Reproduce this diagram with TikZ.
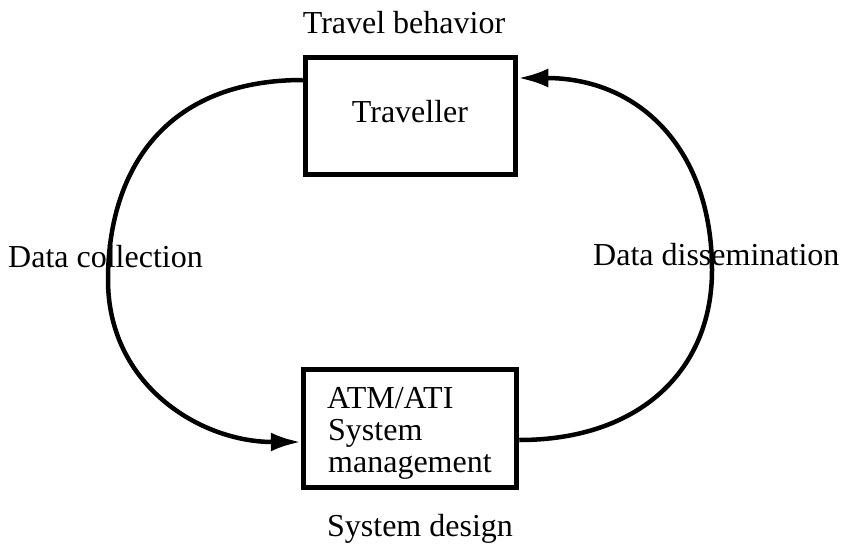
\documentclass[tikz,border=0pt]{standalone}
\usepackage{fontspec}
\setmainfont{Liberation Serif}
\usetikzlibrary{arrows.meta}
\begin{document}
\begin{tikzpicture}[x=1pt,y=-1pt,
  box/.style={draw, line width=5.5pt, inner sep=0pt},
  lbl/.style={font=\fontsize{32}{38}\selectfont, inner sep=0pt},
  flow/.style={line width=4.5pt, -{Latex[length=30pt,width=19pt]}}]
\useasboundingbox (0,0) rectangle (845,544);

% the two boxes
\node[box, minimum width=210pt, minimum height=117pt] (trav) at (410.5,116) {};
\node[box, minimum width=213pt, minimum height=118pt] (sys) at (410,428.5) {};

% box contents
\node[lbl, anchor=base] (travtxt) at (410,122) {Traveller};
\node[lbl, anchor=base west] (atm) at (327,408) {ATM/ATI};
\node[lbl, anchor=base west] (sysl) at (328,440) {System};
\node[lbl, anchor=base west] (mgmt) at (328,472) {management};

% outer labels
\node[lbl, anchor=base] (behav) at (404,33) {Travel behavior};
\node[lbl, anchor=base] (design) at (420,536) {System design};
\node[lbl, anchor=base west] (coll) at (8,267) {Data collection};
\node[lbl, anchor=base west] (diss) at (593,265) {Data dissemination};

% connector end points on the box borders
\coordinate (tl) at (trav.west |- 0,80);
\coordinate (tr) at (trav.east |- 0,78);
\coordinate (bl) at (sys.west |- 0,442);
\coordinate (br) at (sys.east |- 0,440);

% loop: traveller -> system (left), system -> traveller (right)
\draw[flow] (tl) .. controls (165,80) and (108,170) .. (108,280)
                 .. controls (108,385) and (200,442) .. (bl);
\draw[flow] (br) .. controls (640,440) and (712,370) .. (712,270)
                 .. controls (712,150) and (640,78) .. (tr);
\end{tikzpicture}
\end{document}
